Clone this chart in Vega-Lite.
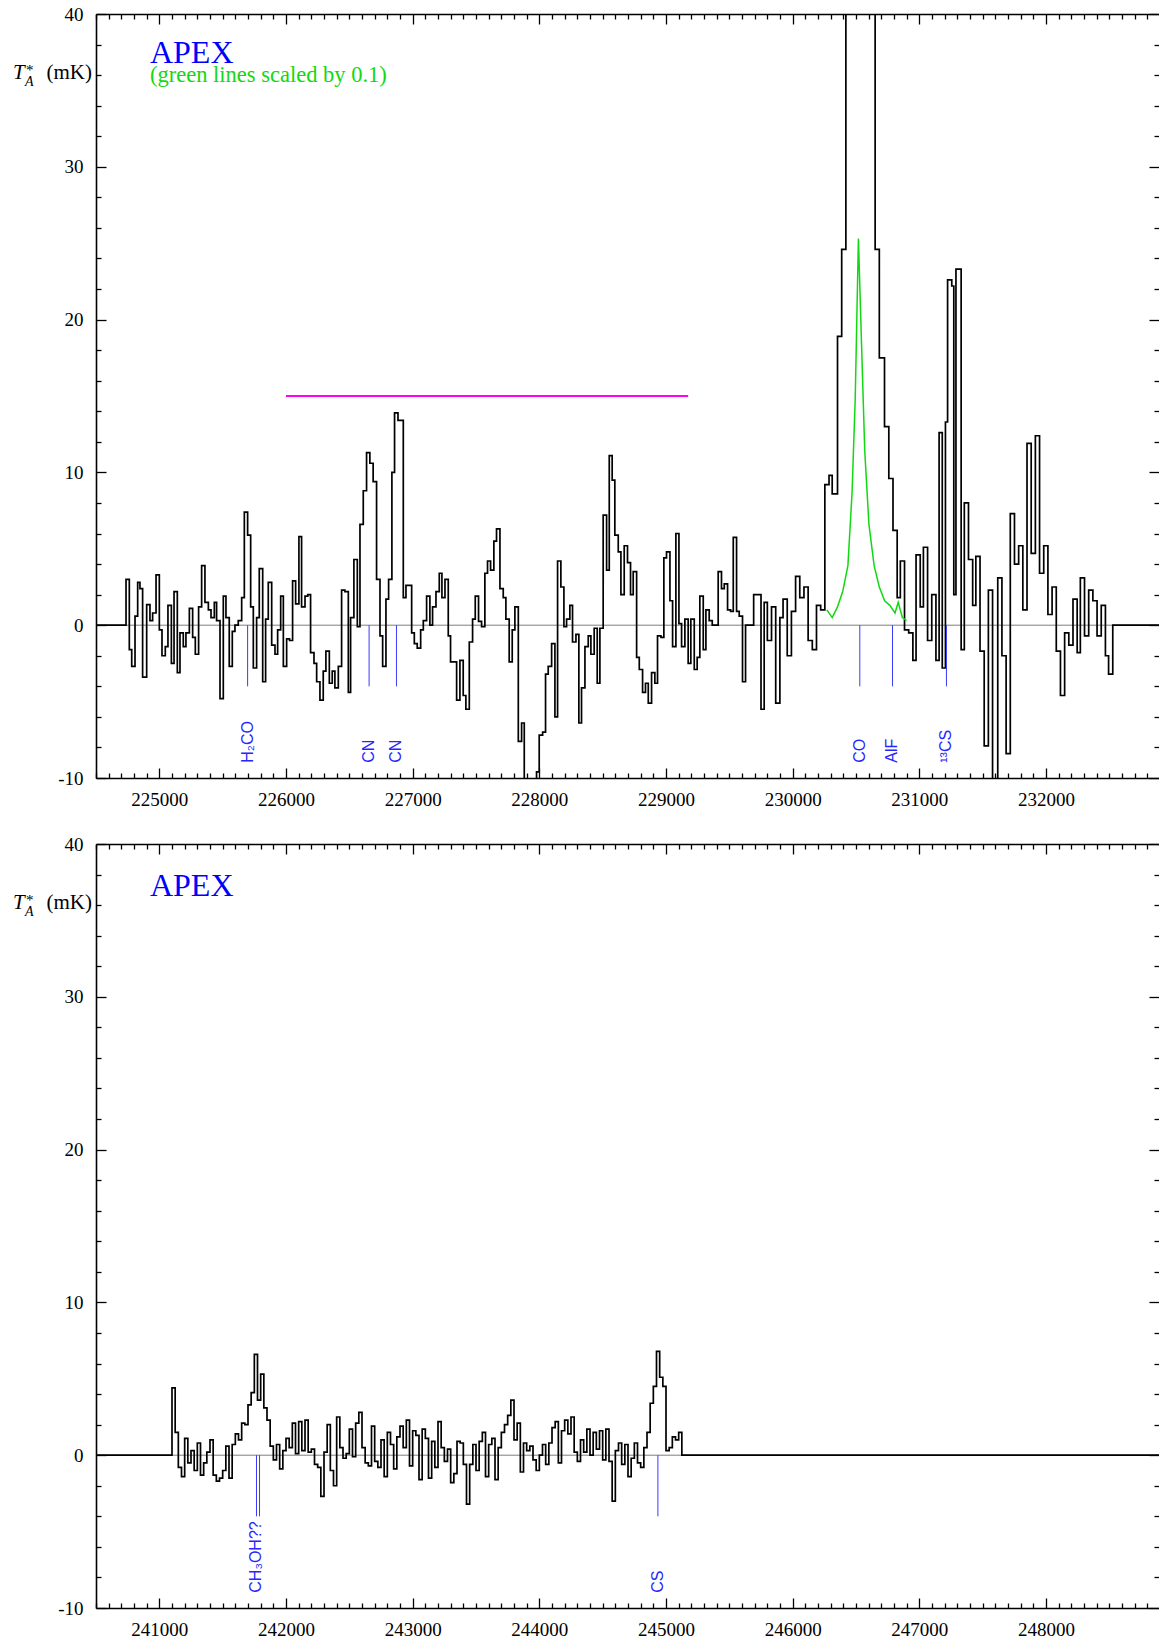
{
  "$schema": "https://vega.github.io/schema/vega-lite/v6.json",
  "padding": {"left": 13, "top": 5, "right": 0, "bottom": 2},
  "bounds": "flush",
  "spacing": 66,
  "datasets": {
    "top": [
      {"f":224500,"t":0},{"f":224737,"t":3.0},{"f":224763,"t":-1.6},{"f":224782,"t":-2.7},{"f":224808,"t":0.6},{"f":224829,"t":2.8},{"f":224847,"t":2.4},{"f":224868,"t":-3.4},{"f":224900,"t":1.35},{"f":224926,"t":0.3},{"f":224947,"t":0.8},{"f":224974,"t":3.3},{"f":225000,"t":-0.3},{"f":225021,"t":-2.0},{"f":225047,"t":-1.4},{"f":225068,"t":1.3},{"f":225095,"t":-2.5},{"f":225116,"t":2.2},{"f":225142,"t":-3.1},{"f":225163,"t":-0.5},{"f":225189,"t":-1.4},{"f":225210,"t":-0.5},{"f":225237,"t":1.1},{"f":225263,"t":-0.8},{"f":225284,"t":-1.9},{"f":225310,"t":1.2},{"f":225334,"t":3.9},{"f":225360,"t":1.5},{"f":225387,"t":1.0},{"f":225408,"t":0.5},{"f":225434,"t":1.5},{"f":225452,"t":0.3},{"f":225479,"t":-4.8},{"f":225505,"t":1.9},{"f":225526,"t":0.5},{"f":225552,"t":-2.7},{"f":225576,"t":-0.4},{"f":225597,"t":0.0},{"f":225623,"t":0.3},{"f":225650,"t":1.8},{"f":225671,"t":7.4},{"f":225697,"t":5.9},{"f":225721,"t":1.2},{"f":225742,"t":-2.8},{"f":225768,"t":0.5},{"f":225789,"t":3.7},{"f":225816,"t":-3.7},{"f":225839,"t":0.4},{"f":225860,"t":2.8},{"f":225887,"t":-1.3},{"f":225913,"t":-1.9},{"f":225934,"t":-0.3},{"f":225958,"t":1.9},{"f":225979,"t":-2.7},{"f":226005,"t":-0.9},{"f":226028,"t":-1.0},{"f":226052,"t":2.9},{"f":226076,"t":1.4},{"f":226102,"t":5.8},{"f":226123,"t":1.2},{"f":226150,"t":1.9},{"f":226172,"t":2.0},{"f":226194,"t":-1.8},{"f":226221,"t":-2.5},{"f":226242,"t":-3.7},{"f":226268,"t":-4.9},{"f":226294,"t":-3.0},{"f":226315,"t":-1.7},{"f":226342,"t":-3.8},{"f":226365,"t":-3.0},{"f":226386,"t":-4.1},{"f":226413,"t":-2.7},{"f":226439,"t":2.3},{"f":226465,"t":2.2},{"f":226492,"t":-4.4},{"f":226510,"t":0.5},{"f":226536,"t":4.3},{"f":226563,"t":-0.1},{"f":226584,"t":6.6},{"f":226610,"t":8.8},{"f":226636,"t":11.3},{"f":226662,"t":10.6},{"f":226688,"t":9.4},{"f":226715,"t":3.0},{"f":226742,"t":-0.7},{"f":226763,"t":-2.7},{"f":226789,"t":1.7},{"f":226810,"t":3.0},{"f":226836,"t":10.0},{"f":226857,"t":13.9},{"f":226884,"t":13.4},
      {"f":226926,"t":1.8},{"f":226947,"t":2.6},{"f":226992,"t":-0.5},{"f":227013,"t":-1.2},{"f":227036,"t":-1.5},{"f":227063,"t":-0.3},{"f":227084,"t":0.3},{"f":227110,"t":1.9},{"f":227136,"t":0.0},{"f":227157,"t":1.2},{"f":227184,"t":2.2},{"f":227210,"t":3.4},{"f":227231,"t":1.8},{"f":227255,"t":3.0},{"f":227281,"t":-0.7},{"f":227299,"t":-2.4},{"f":227347,"t":-4.9},{"f":227373,"t":-2.3},{"f":227399,"t":-4.6},{"f":227420,"t":-5.5},{"f":227447,"t":-1.1},{"f":227473,"t":0.4},{"f":227494,"t":1.9},{"f":227520,"t":0.25},{"f":227544,"t":-0.1},{"f":227570,"t":3.4},{"f":227591,"t":4.2},{"f":227615,"t":3.6},{"f":227641,"t":5.5},{"f":227662,"t":6.3},{"f":227689,"t":2.4},{"f":227715,"t":1.8},{"f":227736,"t":0.4},{"f":227762,"t":-2.4},{"f":227786,"t":-0.3},{"f":227807,"t":1.2},{"f":227834,"t":-7.6},{"f":227860,"t":-6.4},{"f":227881,"t":-13},{"f":227978,"t":-9.6},{"f":227999,"t":-7.2},{"f":228026,"t":-7.0},{"f":228049,"t":-3.2},{"f":228070,"t":-2.7},{"f":228097,"t":-1.2},{"f":228123,"t":-6.0},{"f":228144,"t":4.2},{"f":228170,"t":2.5},{"f":228194,"t":-0.1},{"f":228215,"t":0.4},{"f":228241,"t":1.3},{"f":228262,"t":-1.1},{"f":228289,"t":-0.6},{"f":228312,"t":-6.4},{"f":228333,"t":-4.1},{"f":228360,"t":-1.4},{"f":228386,"t":-0.7},{"f":228407,"t":-1.9},{"f":228433,"t":-0.2},{"f":228457,"t":-3.8},{"f":228478,"t":-0.2},{"f":228504,"t":7.2},{"f":228531,"t":3.6},{"f":228552,"t":11.1},{"f":228575,"t":9.5},{"f":228596,"t":5.9},{"f":228623,"t":4.8},{"f":228644,"t":2.0},{"f":228670,"t":5.2},{"f":228696,"t":4.1},{"f":228720,"t":2.0},{"f":228741,"t":3.5},{"f":228768,"t":-2.1},{"f":228789,"t":-2.9},{"f":228815,"t":-4.4},{"f":228838,"t":-3.8},{"f":228860,"t":-5.1},{"f":228886,"t":-3.1},{"f":228912,"t":-3.8},{"f":228933,"t":-0.7},{"f":228960,"t":-0.8},{"f":228983,"t":4.4},{"f":229004,"t":4.8},{"f":229031,"t":1.6},{"f":229052,"t":-1.4},{"f":229078,"t":6.0},{"f":229102,"t":0.1},{"f":229123,"t":-1.4},{"f":229149,"t":0.4},{"f":229175,"t":-2.5},{"f":229196,"t":0.4},{"f":229223,"t":-2.9},{"f":229246,"t":-2.1},{"f":229267,"t":1.9},{"f":229294,"t":-1.6},{"f":229315,"t":1.0},{"f":229341,"t":0.3},{"f":229365,"t":0.0},{"f":229412,"t":3.5},{"f":229438,"t":2.4},{"f":229460,"t":2.7},{"f":229486,"t":1.0},{"f":229510,"t":0.9},{"f":229531,"t":5.75},{"f":229557,"t":0.9},{"f":229578,"t":0.6},{"f":229604,"t":-3.7},{"f":229628,"t":0.0},
      {"f":229692,"t":2.0},{"f":229750,"t":-5.5},{"f":229775,"t":1.5},{"f":229800,"t":-1.0},{"f":229833,"t":1.2},{"f":229866,"t":-5.1},{"f":229899,"t":0.5},{"f":229924,"t":1.7},{"f":229957,"t":-2.0},{"f":229990,"t":0.9},{"f":230023,"t":3.2},{"f":230056,"t":1.8},{"f":230089,"t":2.5},{"f":230122,"t":-1.0},{"f":230155,"t":-1.6},{"f":230188,"t":1.3},{"f":230221,"t":1.0},{"f":230254,"t":9.2},{"f":230287,"t":9.8},{"f":230312,"t":8.6},{"f":230354,"t":18.9},{"f":230387,"t":24.6},{"f":230420,"t":45},{"f":230453,"t":70},{"f":230486,"t":85},{"f":230519,"t":90},{"f":230552,"t":80},{"f":230585,"t":65},{"f":230618,"t":50},{"f":230651,"t":24.6},{"f":230684,"t":17.5},{"f":230725,"t":13.0},{"f":230759,"t":9.6},{"f":230792,"t":6.2},{"f":230825,"t":1.8},{"f":230850,"t":4.2},{"f":230883,"t":-0.3},{"f":230916,"t":-0.5},{"f":230949,"t":-2.3},{"f":230974,"t":4.6},{"f":231007,"t":1.2},{"f":231032,"t":5.1},{"f":231065,"t":-1.0},{"f":231098,"t":2.0},{"f":231131,"t":-2.3},{"f":231156,"t":12.6},{"f":231181,"t":-2.8},{"f":231206,"t":13.3},{"f":231223,"t":22.6},{"f":231256,"t":22.2},{"f":231272,"t":2.0},{"f":231289,"t":23.3},{"f":231330,"t":-1.6},{"f":231355,"t":8.0},{"f":231388,"t":4.3},{"f":231421,"t":1.3},{"f":231446,"t":4.5},{"f":231479,"t":-1.7},{"f":231512,"t":-7.9},{"f":231545,"t":2.3},{"f":231578,"t":-14},{"f":231619,"t":3.1},{"f":231652,"t":-2.0},{"f":231685,"t":-8.4},{"f":231718,"t":7.3},{"f":231751,"t":4.0},{"f":231784,"t":5.2},{"f":231817,"t":1.0},{"f":231850,"t":11.9},{"f":231883,"t":4.7},{"f":231916,"t":12.4},{"f":231949,"t":3.4},{"f":231982,"t":5.2},{"f":232015,"t":0.7},{"f":232048,"t":2.5},{"f":232081,"t":-1.7},{"f":232114,"t":-4.6},{"f":232147,"t":-0.5},{"f":232180,"t":-1.3},{"f":232213,"t":1.7},{"f":232246,"t":-1.8},{"f":232271,"t":3.1},{"f":232304,"t":-0.7},{"f":232337,"t":2.3},{"f":232370,"t":1.6},{"f":232403,"t":-0.7},{"f":232436,"t":1.3},{"f":232469,"t":-2.0},{"f":232494,"t":-3.2},{"f":232527,"t":0},{"f":232892,"t":0}
    ],
    "greenTop": [
      {"f":230270,"t":1.0},{"f":230312,"t":0.5},{"f":230354,"t":1.2},{"f":230395,"t":2.2},{"f":230436,"t":3.9},{"f":230469,"t":8.7},{"f":230494,"t":14.9},{"f":230519,"t":25.3},{"f":230544,"t":18.3},{"f":230569,"t":11.4},{"f":230602,"t":6.6},{"f":230643,"t":3.9},{"f":230684,"t":2.5},{"f":230726,"t":1.6},{"f":230767,"t":1.3},{"f":230808,"t":0.8},{"f":230833,"t":1.5},{"f":230866,"t":0.5},{"f":230899,"t":0.3}
    ],
    "bottom": [
      {"f":240500,"t":0},
      {"f":241100,"t":4.4},{"f":241125,"t":1.5},{"f":241150,"t":-0.8},{"f":241175,"t":-1.4},{"f":241200,"t":1.1},{"f":241225,"t":-0.5},{"f":241250,"t":0.3},{"f":241275,"t":-1.0},{"f":241300,"t":0.8},{"f":241325,"t":-1.3},
      {"f":241350,"t":-0.5},{"f":241375,"t":0.2},{"f":241400,"t":1.0},{"f":241425,"t":-1.3},{"f":241450,"t":-1.7},{"f":241475,"t":-1.5},{"f":241500,"t":-1.0},{"f":241525,"t":0.6},{"f":241550,"t":-1.5},{"f":241575,"t":0.7},
      {"f":241600,"t":1.4},{"f":241625,"t":1.0},{"f":241650,"t":2.1},{"f":241675,"t":2.0},{"f":241700,"t":3.3},{"f":241725,"t":4.1},{"f":241750,"t":6.6},{"f":241775,"t":3.6},{"f":241800,"t":5.3},{"f":241825,"t":3.1},
      {"f":241850,"t":2.3},{"f":241875,"t":0.6},{"f":241900,"t":-0.3},{"f":241925,"t":0.7},{"f":241950,"t":-0.9},{"f":241975,"t":0.3},{"f":242000,"t":1.1},{"f":242025,"t":0.5},{"f":242050,"t":2.1},{"f":242075,"t":0.1},
      {"f":242100,"t":2.2},{"f":242125,"t":0.3},{"f":242150,"t":2.3},{"f":242175,"t":0.2},{"f":242200,"t":0.4},{"f":242225,"t":-0.6},{"f":242250,"t":-0.8},{"f":242275,"t":-2.7},{"f":242300,"t":0.2},{"f":242325,"t":2.0},
      {"f":242350,"t":-1.0},{"f":242375,"t":-2.0},{"f":242400,"t":2.5},{"f":242425,"t":0.5},{"f":242450,"t":-0.2},{"f":242475,"t":0.1},{"f":242500,"t":1.7},{"f":242525,"t":-0.1},{"f":242550,"t":2.1},{"f":242575,"t":2.8},
      {"f":242600,"t":0.5},{"f":242625,"t":-0.5},{"f":242650,"t":-0.7},{"f":242675,"t":1.9},{"f":242700,"t":-0.4},{"f":242725,"t":-0.8},{"f":242750,"t":1.0},{"f":242775,"t":-1.4},{"f":242800,"t":1.5},{"f":242825,"t":0.7},
      {"f":242850,"t":-0.9},{"f":242875,"t":1.2},{"f":242900,"t":1.9},{"f":242925,"t":0.5},{"f":242950,"t":2.3},{"f":242975,"t":-0.7},{"f":243000,"t":1.6},{"f":243025,"t":1.3},{"f":243050,"t":-1.6},{"f":243075,"t":1.7},
      {"f":243100,"t":1.1},{"f":243125,"t":-1.5},{"f":243150,"t":0.9},{"f":243175,"t":-0.8},{"f":243200,"t":2.2},{"f":243225,"t":0.5},{"f":243250,"t":-0.4},{"f":243275,"t":0.4},{"f":243300,"t":-1.8},{"f":243325,"t":-1.2},
      {"f":243350,"t":0.9},{"f":243375,"t":0.8},{"f":243400,"t":-0.6},{"f":243425,"t":-3.2},{"f":243450,"t":-0.6},{"f":243475,"t":0.7},{"f":243500,"t":-1.0},{"f":243525,"t":0.9},{"f":243550,"t":1.5},{"f":243575,"t":-1.4},
      {"f":243600,"t":0.7},{"f":243625,"t":1.1},{"f":243650,"t":-1.6},{"f":243675,"t":0.5},{"f":243700,"t":1.5},{"f":243725,"t":2.0},{"f":243750,"t":2.6},{"f":243775,"t":3.6},{"f":243800,"t":1.0},{"f":243825,"t":2.1},
      {"f":243850,"t":-1.1},{"f":243875,"t":0.8},{"f":243900,"t":0.3},{"f":243925,"t":0.6},{"f":243950,"t":-0.3},{"f":243975,"t":-1.0},{"f":244000,"t":0.0},{"f":244025,"t":0.7},{"f":244050,"t":-0.6},{"f":244075,"t":0.8},
      {"f":244100,"t":1.8},{"f":244125,"t":2.2},{"f":244150,"t":-0.5},{"f":244175,"t":1.6},{"f":244200,"t":2.3},{"f":244225,"t":1.4},{"f":244250,"t":2.5},{"f":244275,"t":0.2},{"f":244300,"t":-0.4},{"f":244325,"t":1.0},
      {"f":244350,"t":0.2},{"f":244375,"t":1.7},{"f":244400,"t":0.0},{"f":244425,"t":1.5},{"f":244450,"t":0.4},{"f":244475,"t":1.6},{"f":244500,"t":-0.3},{"f":244525,"t":1.7},{"f":244550,"t":-0.4},{"f":244575,"t":-3.0},
      {"f":244600,"t":0.3},{"f":244625,"t":0.8},{"f":244650,"t":-0.6},{"f":244675,"t":0.7},{"f":244700,"t":-1.4},{"f":244725,"t":-0.2},{"f":244750,"t":0.8},{"f":244775,"t":-0.5},{"f":244800,"t":-0.8},{"f":244825,"t":0.5},
      {"f":244850,"t":1.5},{"f":244875,"t":3.4},{"f":244900,"t":4.5},{"f":244925,"t":6.8},{"f":244950,"t":5.1},{"f":244975,"t":4.5},{"f":245000,"t":0.3},{"f":245025,"t":0.5},{"f":245050,"t":1.2},{"f":245075,"t":1.0},
      {"f":245100,"t":1.5},{"f":245125,"t":0},{"f":248892,"t":0}
    ],
    "linesTop": [{"f":225697},{"f":226656},{"f":226872},{"f":230530},{"f":230788},{"f":231214}],
    "labelsTop": [{"f":225697,"label":"H₂CO"},{"f":226656,"label":"CN"},{"f":226872,"label":"CN"},{"f":230530,"label":"CO"},{"f":230788,"label":"AlF"},{"f":231214,"label":"¹³CS"}],
    "linesBottom": [{"f":241767},{"f":241791},{"f":244936}],
    "labelsBottom": [{"f":241767,"label":"CH₃OH??"},{"f":244936,"label":"CS"}],
    "band": [{"f1":226000,"f2":229175,"t":15}],
    "zero": [{"t":0}],
    "note": [{"text":"(green lines scaled by 0.1)"}],
    "tag": [{"text":"APEX"}],
    "unit": [{"t":"T","sub":"A","sup":"*","u":"(mK)"}]
  },
  "vconcat": [
    {
      "width": 1063,
      "height": 764,
      "layer": [
        {
          "data": {"name": "zero"},
          "mark": {"type": "rule", "stroke": "#7f7f7f", "strokeWidth": 1},
          "encoding": {"y": {"field": "t", "type": "quantitative", "axis": null}}
        },
        {
          "data": {"name": "band"},
          "mark": {"type": "rule", "stroke": "#ff00ff", "strokeWidth": 2},
          "encoding": {
            "x": {"field": "f1", "type": "quantitative", "axis": null},
            "x2": {"field": "f2"},
            "y": {"field": "t", "type": "quantitative", "axis": null}
          }
        },
        {
          "data": {"name": "top"},
          "mark": {"type": "line", "interpolate": "step-after", "stroke": "black", "strokeWidth": 1.7, "clip": true},
          "encoding": {
            "x": {
              "field": "f", "type": "quantitative",
              "scale": {"domain": [224500, 232892], "nice": false, "zero": false},
              "axis": {
                "orient": "bottom", "title": null,
                "values": [224500,224600,224700,224800,224900,225000,225100,225200,225300,225400,225500,225600,225700,225800,225900,226000,226100,226200,226300,226400,226500,226600,226700,226800,226900,227000,227100,227200,227300,227400,227500,227600,227700,227800,227900,228000,228100,228200,228300,228400,228500,228600,228700,228800,228900,229000,229100,229200,229300,229400,229500,229600,229700,229800,229900,230000,230100,230200,230300,230400,230500,230600,230700,230800,230900,231000,231100,231200,231300,231400,231500,231600,231700,231800,231900,232000,232100,232200,232300,232400,232500,232600,232700,232800],
                "tickSize": {"condition": {"test": "datum.value % 1000 === 0", "value": -10}, "value": -5},
                "labelExpr": "datum.value % 1000 === 0 ? datum.value + '' : ''",
                "labelPadding": 22, "labelOverlap": false, "labelBound": false, "labelFlush": false
              }
            },
            "y": {
              "field": "t", "type": "quantitative",
              "scale": {"domain": [-10, 40], "nice": false, "zero": false},
              "axis": {
                "orient": "left", "title": null,
                "values": [-10,-8,-6,-4,-2,0,2,4,6,8,10,12,14,16,18,20,22,24,26,28,30,32,34,36,38,40],
                "tickSize": {"condition": {"test": "datum.value % 10 === 0", "value": -10}, "value": -5},
                "labelExpr": "datum.value % 10 === 0 ? datum.value + '' : ''",
                "labelPadding": 23, "labelOverlap": false, "labelBound": false, "labelFlush": false
              }
            }
          }
        },
        {
          "data": {"name": "greenTop"},
          "mark": {"type": "line", "stroke": "#12d812", "strokeWidth": 1.5},
          "encoding": {
            "x": {"field": "f", "type": "quantitative", "axis": null},
            "y": {"field": "t", "type": "quantitative", "axis": null}
          }
        },
        {
          "data": {"name": "linesTop"},
          "mark": {"type": "rule", "stroke": "#3a3aff", "strokeWidth": 1},
          "encoding": {
            "x": {
              "field": "f", "type": "quantitative",
              "axis": {
                "orient": "top", "title": null, "labels": false,
                "values": [224500,224600,224700,224800,224900,225000,225100,225200,225300,225400,225500,225600,225700,225800,225900,226000,226100,226200,226300,226400,226500,226600,226700,226800,226900,227000,227100,227200,227300,227400,227500,227600,227700,227800,227900,228000,228100,228200,228300,228400,228500,228600,228700,228800,228900,229000,229100,229200,229300,229400,229500,229600,229700,229800,229900,230000,230100,230200,230300,230400,230500,230600,230700,230800,230900,231000,231100,231200,231300,231400,231500,231600,231700,231800,231900,232000,232100,232200,232300,232400,232500,232600,232700,232800],
                "tickSize": {"condition": {"test": "datum.value % 1000 === 0", "value": -10}, "value": -5}
              }
            },
            "y": {
              "datum": 0, "type": "quantitative",
              "axis": {
                "orient": "right", "title": null, "labels": false, "domain": false,
                "values": [-10,-8,-6,-4,-2,0,2,4,6,8,10,12,14,16,18,20,22,24,26,28,30,32,34,36,38,40],
                "tickSize": {"condition": {"test": "datum.value % 10 === 0", "value": -10}, "value": -5}
              }
            },
            "y2": {"datum": -4}
          }
        },
        {
          "data": {"name": "labelsTop"},
          "mark": {"type": "text", "angle": 270, "align": "left", "baseline": "middle", "font": "Liberation Sans", "fontSize": 16, "fill": "#2626ff"},
          "encoding": {
            "x": {"field": "f", "type": "quantitative", "axis": null},
            "y": {"datum": -9, "type": "quantitative", "axis": null},
            "text": {"field": "label"}
          }
        },
        {
          "data": {"name": "tag"},
          "mark": {"type": "text", "align": "left", "baseline": "alphabetic", "font": "Liberation Serif", "fontSize": 32, "fill": "#0000ff"},
          "encoding": {
            "x": {"datum": 224926, "type": "quantitative", "axis": null},
            "y": {"datum": 36.8, "type": "quantitative", "axis": null},
            "text": {"field": "text"}
          }
        },
        {
          "data": {"name": "note"},
          "mark": {"type": "text", "align": "left", "baseline": "alphabetic", "font": "Liberation Serif", "fontSize": 22.5, "fill": "#12d812"},
          "encoding": {
            "x": {"datum": 224926, "type": "quantitative", "axis": null},
            "y": {"datum": 35.55, "type": "quantitative", "axis": null},
            "text": {"field": "text"}
          }
        },
        {
          "data": {"name": "unit"},
          "mark": {"type": "text", "align": "left", "baseline": "alphabetic", "font": "Liberation Serif", "fontSize": 21, "fontStyle": "italic", "fill": "black", "dx": -83, "dy": 4},
          "encoding": {
            "x": {"datum": 224500, "type": "quantitative", "axis": null},
            "y": {"datum": 36, "type": "quantitative", "axis": null},
            "text": {"field": "t"}
          }
        },
        {
          "data": {"name": "unit"},
          "mark": {"type": "text", "align": "left", "baseline": "alphabetic", "font": "Liberation Serif", "fontSize": 14, "fontStyle": "italic", "fill": "black", "dx": -71, "dy": 11},
          "encoding": {
            "x": {"datum": 224500, "type": "quantitative", "axis": null},
            "y": {"datum": 36, "type": "quantitative", "axis": null},
            "text": {"field": "sub"}
          }
        },
        {
          "data": {"name": "unit"},
          "mark": {"type": "text", "align": "left", "baseline": "alphabetic", "font": "Liberation Serif", "fontSize": 15, "fill": "black", "dx": -70, "dy": 0},
          "encoding": {
            "x": {"datum": 224500, "type": "quantitative", "axis": null},
            "y": {"datum": 36, "type": "quantitative", "axis": null},
            "text": {"field": "sup"}
          }
        },
        {
          "data": {"name": "unit"},
          "mark": {"type": "text", "align": "right", "baseline": "alphabetic", "font": "Liberation Serif", "fontSize": 21, "fill": "black", "dx": -4, "dy": 4},
          "encoding": {
            "x": {"datum": 224500, "type": "quantitative", "axis": null},
            "y": {"datum": 36, "type": "quantitative", "axis": null},
            "text": {"field": "u"}
          }
        }
      ],
      "resolve": {"axis": {"x": "independent", "y": "independent"}}
    },
    {
      "width": 1063,
      "height": 764,
      "layer": [
        {
          "data": {"name": "zero"},
          "mark": {"type": "rule", "stroke": "#7f7f7f", "strokeWidth": 1},
          "encoding": {"y": {"field": "t", "type": "quantitative", "axis": null}}
        },
        {
          "data": {"name": "bottom"},
          "mark": {"type": "line", "interpolate": "step-after", "stroke": "black", "strokeWidth": 1.7, "clip": true},
          "encoding": {
            "x": {
              "field": "f", "type": "quantitative",
              "scale": {"domain": [240500, 248892], "nice": false, "zero": false},
              "axis": {
                "orient": "bottom", "title": null,
                "values": [240500,240600,240700,240800,240900,241000,241100,241200,241300,241400,241500,241600,241700,241800,241900,242000,242100,242200,242300,242400,242500,242600,242700,242800,242900,243000,243100,243200,243300,243400,243500,243600,243700,243800,243900,244000,244100,244200,244300,244400,244500,244600,244700,244800,244900,245000,245100,245200,245300,245400,245500,245600,245700,245800,245900,246000,246100,246200,246300,246400,246500,246600,246700,246800,246900,247000,247100,247200,247300,247400,247500,247600,247700,247800,247900,248000,248100,248200,248300,248400,248500,248600,248700,248800],
                "tickSize": {"condition": {"test": "datum.value % 1000 === 0", "value": -10}, "value": -5},
                "labelExpr": "datum.value % 1000 === 0 ? datum.value + '' : ''",
                "labelPadding": 22, "labelOverlap": false, "labelBound": false, "labelFlush": false
              }
            },
            "y": {
              "field": "t", "type": "quantitative",
              "scale": {"domain": [-10, 40], "nice": false, "zero": false},
              "axis": {
                "orient": "left", "title": null,
                "values": [-10,-8,-6,-4,-2,0,2,4,6,8,10,12,14,16,18,20,22,24,26,28,30,32,34,36,38,40],
                "tickSize": {"condition": {"test": "datum.value % 10 === 0", "value": -10}, "value": -5},
                "labelExpr": "datum.value % 10 === 0 ? datum.value + '' : ''",
                "labelPadding": 23, "labelOverlap": false, "labelBound": false, "labelFlush": false
              }
            }
          }
        },
        {
          "data": {"name": "linesBottom"},
          "mark": {"type": "rule", "stroke": "#3a3aff", "strokeWidth": 1},
          "encoding": {
            "x": {
              "field": "f", "type": "quantitative",
              "axis": {
                "orient": "top", "title": null, "labels": false,
                "values": [240500,240600,240700,240800,240900,241000,241100,241200,241300,241400,241500,241600,241700,241800,241900,242000,242100,242200,242300,242400,242500,242600,242700,242800,242900,243000,243100,243200,243300,243400,243500,243600,243700,243800,243900,244000,244100,244200,244300,244400,244500,244600,244700,244800,244900,245000,245100,245200,245300,245400,245500,245600,245700,245800,245900,246000,246100,246200,246300,246400,246500,246600,246700,246800,246900,247000,247100,247200,247300,247400,247500,247600,247700,247800,247900,248000,248100,248200,248300,248400,248500,248600,248700,248800],
                "tickSize": {"condition": {"test": "datum.value % 1000 === 0", "value": -10}, "value": -5}
              }
            },
            "y": {
              "datum": 0, "type": "quantitative",
              "axis": {
                "orient": "right", "title": null, "labels": false, "domain": false,
                "values": [-10,-8,-6,-4,-2,0,2,4,6,8,10,12,14,16,18,20,22,24,26,28,30,32,34,36,38,40],
                "tickSize": {"condition": {"test": "datum.value % 10 === 0", "value": -10}, "value": -5}
              }
            },
            "y2": {"datum": -4}
          }
        },
        {
          "data": {"name": "labelsBottom"},
          "mark": {"type": "text", "angle": 270, "align": "left", "baseline": "middle", "font": "Liberation Sans", "fontSize": 16, "fill": "#2626ff"},
          "encoding": {
            "x": {"field": "f", "type": "quantitative", "axis": null},
            "y": {"datum": -9, "type": "quantitative", "axis": null},
            "text": {"field": "label"}
          }
        },
        {
          "data": {"name": "tag"},
          "mark": {"type": "text", "align": "left", "baseline": "alphabetic", "font": "Liberation Serif", "fontSize": 32, "fill": "#0000ff"},
          "encoding": {
            "x": {"datum": 240926, "type": "quantitative", "axis": null},
            "y": {"datum": 36.6, "type": "quantitative", "axis": null},
            "text": {"field": "text"}
          }
        },
        {
          "data": {"name": "unit"},
          "mark": {"type": "text", "align": "left", "baseline": "alphabetic", "font": "Liberation Serif", "fontSize": 21, "fontStyle": "italic", "fill": "black", "dx": -83, "dy": 4},
          "encoding": {
            "x": {"datum": 240500, "type": "quantitative", "axis": null},
            "y": {"datum": 36, "type": "quantitative", "axis": null},
            "text": {"field": "t"}
          }
        },
        {
          "data": {"name": "unit"},
          "mark": {"type": "text", "align": "left", "baseline": "alphabetic", "font": "Liberation Serif", "fontSize": 14, "fontStyle": "italic", "fill": "black", "dx": -71, "dy": 11},
          "encoding": {
            "x": {"datum": 240500, "type": "quantitative", "axis": null},
            "y": {"datum": 36, "type": "quantitative", "axis": null},
            "text": {"field": "sub"}
          }
        },
        {
          "data": {"name": "unit"},
          "mark": {"type": "text", "align": "left", "baseline": "alphabetic", "font": "Liberation Serif", "fontSize": 15, "fill": "black", "dx": -70, "dy": 0},
          "encoding": {
            "x": {"datum": 240500, "type": "quantitative", "axis": null},
            "y": {"datum": 36, "type": "quantitative", "axis": null},
            "text": {"field": "sup"}
          }
        },
        {
          "data": {"name": "unit"},
          "mark": {"type": "text", "align": "right", "baseline": "alphabetic", "font": "Liberation Serif", "fontSize": 21, "fill": "black", "dx": -4, "dy": 4},
          "encoding": {
            "x": {"datum": 240500, "type": "quantitative", "axis": null},
            "y": {"datum": 36, "type": "quantitative", "axis": null},
            "text": {"field": "u"}
          }
        }
      ],
      "resolve": {"axis": {"x": "independent", "y": "independent"}}
    }
  ],
  "config": {
    "view": {"stroke": null},
    "axis": {
      "grid": false,
      "domainColor": "black",
      "domainWidth": 1.6,
      "tickColor": "black",
      "tickWidth": 1.3,
      "labelColor": "black",
      "labelFont": "Liberation Serif",
      "labelFontSize": 19
    }
  }
}
